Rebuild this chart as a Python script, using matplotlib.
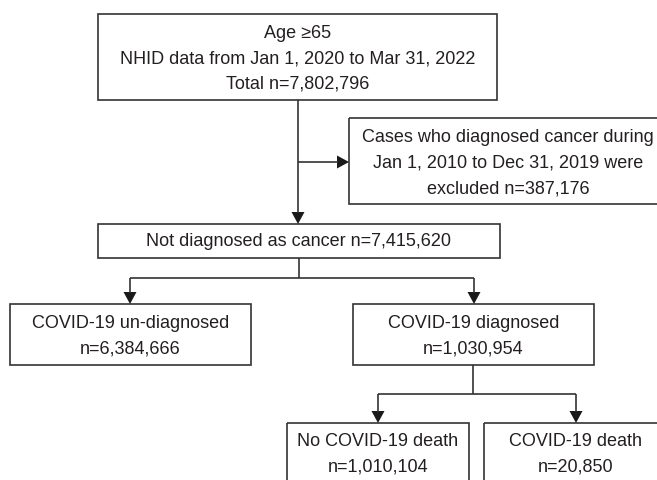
import matplotlib
matplotlib.use("Agg")
import matplotlib.pyplot as plt
from matplotlib.patches import Rectangle, Polygon

# ---- content (texts of the flowchart) ----
box_total = ["Age \u226565", "NHID data from Jan 1, 2020 to Mar 31, 2022", "Total n=7,802,796"]
box_excluded = ["Cases who diagnosed cancer during", "Jan 1, 2010 to Dec 31, 2019 were", "excluded n=387,176"]
box_no_cancer = ["Not diagnosed as cancer n=7,415,620"]
box_undiag = ["COVID-19 un-diagnosed", "n=6,384,666"]
box_diag = ["COVID-19 diagnosed", "n=1,030,954"]
box_nodeath = ["No COVID-19 death", "n=1,010,104"]
box_death = ["COVID-19 death", "n=20,850"]

# ---- layout (pixel coordinates, y downward) ----
W, H = 657, 480
LC = "#333333"
TC = "#231f20"
LW = 1.2
FONT = ["Liberation Sans", "DejaVu Sans"]
FS = 13

fig = plt.figure(figsize=(W / 100, H / 100), dpi=100)
ax = fig.add_axes([0, 0, 1, 1])
ax.set_xlim(0, W)
ax.set_ylim(H, 0)
ax.axis("off")


def box(x0, y0, x1, y1, lines, y_first, step=25.5):
    ax.add_patch(Rectangle((x0, y0), x1 - x0, y1 - y0, fill=False,
                           edgecolor=LC, lw=LW, clip_on=True))
    cx = (x0 + x1) / 2
    for i, t in enumerate(lines):
        ax.text(cx, y_first + 1 + i * step, t, ha="center", va="center",
                fontsize=FS, color=TC, family=FONT)


def line(xs, ys):
    ax.plot(xs, ys, color=LC, lw=LW, solid_capstyle="butt")


def arrow_down(x, y0, y1, hl=12, hw=6.5):
    line([x, x], [y0, y1 - hl + 1])
    ax.add_patch(Polygon([[x - hw, y1 - hl], [x + hw, y1 - hl], [x, y1]],
                         closed=True, facecolor="#1a1a1a", edgecolor="none"))


def arrow_right(y, x0, x1, hl=12, hw=6.5):
    line([x0, x1 - hl + 1], [y, y])
    ax.add_patch(Polygon([[x1 - hl, y - hw], [x1 - hl, y + hw], [x1, y]],
                         closed=True, facecolor="#1a1a1a", edgecolor="none"))


# boxes
box(98, 14, 497, 100, box_total, 32)
box(349, 118, 667, 204, box_excluded, 137)
box(98, 224, 500, 258, box_no_cancer, 241)
box(10, 304, 251, 365, box_undiag, 322)
box(353, 304, 594, 365, box_diag, 322)
box(287, 423, 469, 500, box_nodeath, 440)
box(484, 423, 667, 500, box_death, 440)

# connectors
arrow_down(298, 100, 224)
arrow_right(162, 298, 349)
line([299, 299], [258, 278])
line([130, 474], [278, 278])
arrow_down(130, 278, 304)
arrow_down(474, 278, 304)
line([473, 473], [365, 394])
line([378, 576], [394, 394])
arrow_down(378, 394, 423)
arrow_down(576, 394, 423)

fig.savefig("out.png", dpi=100)
